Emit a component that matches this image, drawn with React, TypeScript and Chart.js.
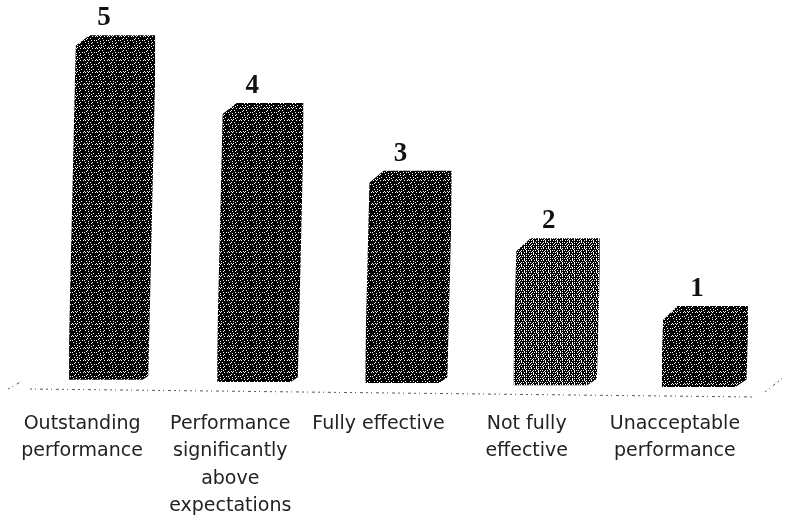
import React, { useEffect, useRef } from "react";
import { Chart, registerables } from "chart.js";

Chart.register(...registerables);

const categories: string[][] = [
  ["Outstanding", "performance"],
  ["Performance", "significantly", "above", "expectations"],
  ["Fully effective"],
  ["Not fully", "effective"],
  ["Unacceptable", "performance"],
];
const ratings = [5, 4, 3, 2, 1];
// the pictured floor tilts, so each box stands slightly lower than the last
const barBases = [-0.09, -0.12, -0.135, -0.17, -0.195];

const DARK_TILE = [
  "#.##.###.##.",
  "############",
  "###.##.#####",
  "##.#########",
  ".######.##.#",
  "####.#######",
  "#.######.###",
  "####.##.####",
  "############",
  "##.##.###.##",
  "#######.####",
  ".##.#.######",
];
const LIGHT_TILE = [
  "#.#.#.##.#.#",
  "#####.######",
  ".##.#.#.##.#",
  "##.#####.###",
  "#.##.#.#.#.#",
  "###.########",
  ".#.##.##.#.#",
  "###.####.###",
  "#.#.##.#.#.#",
  "#########.##",
  ".#.##.#.##.#",
  "####.#####.#",
];
const barTiles = [DARK_TILE, DARK_TILE, DARK_TILE, LIGHT_TILE, DARK_TILE];

function makePattern(ctx: CanvasRenderingContext2D, tile: string[]) {
  const c = document.createElement("canvas");
  c.width = tile[0].length;
  c.height = tile.length;
  const t = c.getContext("2d")!;
  t.fillStyle = "#ffffff";
  t.fillRect(0, 0, c.width, c.height);
  t.fillStyle = "#000000";
  tile.forEach((row, y) =>
    [...row].forEach((cell, x) => {
      if (cell === "#") t.fillRect(x, y, 1, 1);
    })
  );
  return ctx.createPattern(c, "repeat")!;
}

function triangle(ctx: CanvasRenderingContext2D, a: number[], b: number[], c: number[]) {
  ctx.beginPath();
  ctx.moveTo(a[0], a[1]);
  ctx.lineTo(b[0], b[1]);
  ctx.lineTo(c[0], c[1]);
  ctx.closePath();
  ctx.fill();
}

const decorate = {
  id: "decorate",
  afterDatasetsDraw(chart: any) {
    const { ctx, chartArea } = chart;
    const meta = chart.getDatasetMeta(0);
    ctx.save();
    meta.data.forEach((bar: any, i: number) => {
      const left = bar.x - bar.width / 2;
      const right = bar.x + bar.width / 2;
      const h = bar.base - bar.y;
      const slant = h * 0.02;
      ctx.fillStyle = "#ffffff";
      // perspective lean of the two long sides
      triangle(ctx, [left - 1, bar.base], [left - 1, bar.y - 1], [left + slant, bar.y - 1]);
      triangle(ctx, [right + 1, bar.y], [right + 1, bar.base + 1], [right - slant, bar.base + 1]);
      // chamfered top-left corner of the 3D box
      triangle(ctx, [left - 1, bar.y - 1], [left + slant + 15, bar.y - 1], [left - 1, bar.y + 16]);
      // chamfered bottom-right foot
      triangle(ctx, [right + 1, bar.base + 1], [right - 14, bar.base + 1], [right + 1, bar.base - 9]);
      // value label
      ctx.fillStyle = "#111111";
      ctx.font = "bold 27px 'Liberation Serif'";
      ctx.textAlign = "center";
      ctx.textBaseline = "middle";
      ctx.fillText(String(ratings[i]), bar.x - 8, bar.y - 17);
    });
    // dotted floor of the 3D plot
    ctx.strokeStyle = "#555555";
    ctx.lineWidth = 1;
    ctx.setLineDash([2, 3, 1, 4, 3, 3]);
    const b = chartArea.bottom;
    ctx.beginPath();
    ctx.moveTo(chartArea.left - 8, b + 1);
    ctx.lineTo(chartArea.right - 24, b + 9);
    ctx.moveTo(chartArea.left - 30, b + 1);
    ctx.lineTo(chartArea.left - 16, b - 7);
    ctx.moveTo(chartArea.right - 14, b + 4);
    ctx.lineTo(chartArea.right + 6, b - 12);
    ctx.stroke();
    ctx.restore();
  },
};

export default function App() {
  const ref = useRef<HTMLCanvasElement>(null);
  useEffect(() => {
    const canvas = ref.current!;
    const ctx = canvas.getContext("2d")!;
    const chart = new Chart(canvas, {
      type: "bar",
      data: {
        labels: categories,
        datasets: [
          {
            data: ratings.map((v, i) => [barBases[i], v]),
            backgroundColor: barTiles.map((t) => makePattern(ctx, t)),
            barPercentage: 0.58,
            categoryPercentage: 1,
          },
        ],
      },
      plugins: [decorate],
      options: {
        animation: false,
        responsive: false,
        layout: { padding: { left: 38, right: 9, top: 0, bottom: 0 } },
        plugins: { legend: { display: false }, tooltip: { enabled: false } },
        scales: {
          y: { display: false, min: -0.21, max: 5.52 },
          x: {
            afterFit: (s: any) => {
              s.height = 131;
              s.paddingLeft = 0;
              s.paddingRight = 0;
            },
            grid: { display: false, drawTicks: false },
            border: { display: false },
            ticks: {
              autoSkip: false,
              maxRotation: 0,
              minRotation: 0,
              padding: 22,
              labelOffset: -30,
              color: "#222222",
              font: { family: "'DejaVu Sans'", size: 19, lineHeight: 1.45 },
            },
          },
        },
      },
    });
    return () => chart.destroy();
  }, []);
  return (
    <canvas
      ref={ref}
      width={788}
      height={519}
      style={{ position: "fixed", left: 0, top: 0, width: 788, height: 519 }}
    />
  );
}
